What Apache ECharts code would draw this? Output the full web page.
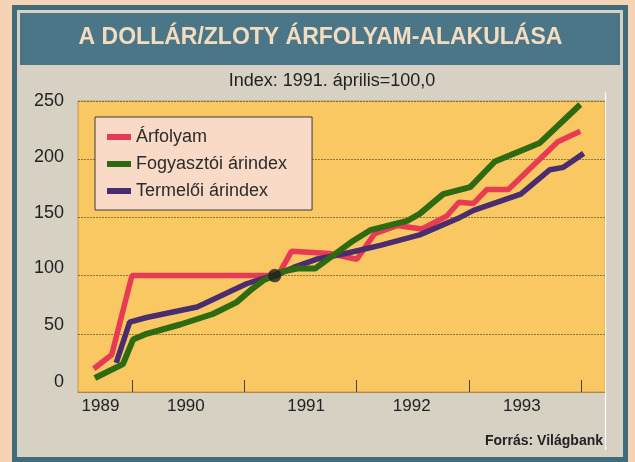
<!DOCTYPE html>
<html><head><meta charset="utf-8">
<script src="https://cdn.jsdelivr.net/npm/echarts@6/dist/echarts.min.js"></script>
<style>html,body{margin:0;padding:0;background:#f7d3b5;}#c{width:635px;height:462px;}</style>
</head><body><div id="c"></div>
<script>
// ---- data ----
const seriesNames = ['Árfolyam', 'Fogyasztói árindex', 'Termelői árindex'];
// [year (decimal), index]
const arfolyam = [
  [1989.66, 20], [1989.82, 32], [1990.00, 100], [1991.30, 100], [1991.42, 121],
  [1991.76, 119], [1992.00, 114], [1992.16, 136], [1992.36, 143], [1992.58, 140],
  [1992.80, 151], [1992.91, 163], [1993.04, 162], [1993.16, 174], [1993.35, 174],
  [1993.79, 215], [1993.99, 224]
];
const fogyasztoi = [
  [1989.67, 12], [1989.92, 24], [1990.01, 45], [1990.13, 50], [1990.43, 58],
  [1990.72, 67], [1990.93, 77], [1991.05, 87], [1991.17, 96], [1991.27, 100],
  [1991.32, 103], [1991.47, 106], [1991.63, 106], [1991.97, 130], [1992.12, 139],
  [1992.45, 147], [1992.56, 153], [1992.77, 170], [1993.01, 176], [1993.23, 198],
  [1993.63, 214], [1993.99, 247]
];
const termeloi = [
  [1989.86, 25], [1989.98, 60], [1990.13, 64], [1990.58, 73], [1991.02, 93],
  [1991.20, 98.5], [1991.27, 100], [1991.44, 107], [1991.64, 114], [1991.90, 119],
  [1992.21, 126], [1992.56, 135], [1992.92, 150], [1993.04, 156], [1993.46, 170],
  [1993.72, 191], [1993.84, 193], [1994.02, 205]
];
const baseDate = [[1991.27, 100]]; // 1991. április = 100
const yearLabels = ['1989', '1990', '1991', '1992', '1993'];
const yearLabelAt = [1989.72, 1990.48, 1991.55, 1992.49, 1993.47];
const yearTicks = [1990, 1991, 1992, 1993, 1994];
const yTickLabels = [0, 50, 100, 150, 200, 250];
const yTickLabelAt = [8.8, 57.6, 106.5, 153.8, 202.1, 250];

// ---- chart ----
const colors = ['#e63a55', '#2e6a12', '#4a2d6e'];
const nearestIdx = (arr, v) => {
  let bi = 0;
  arr.forEach((a, i) => { if (Math.abs(a - v) < Math.abs(arr[bi] - v)) bi = i; });
  return bi;
};
const chart = echarts.init(document.getElementById('c'), null, {renderer: 'canvas'});
const FONT = '"Liberation Sans", Arial, Helvetica, sans-serif';
chart.setOption({
  animation: false,
  backgroundColor: '#f7d3b5',
  textStyle: {fontFamily: FONT},
  graphic: [
    {type: 'rect', z: -10, shape: {x: 12, y: 5, width: 616, height: 457}, style: {fill: '#3e6c7b'}},
    {type: 'rect', z: -9, shape: {x: 17, y: 10, width: 606, height: 447}, style: {fill: '#d6d1c3'}},
    {type: 'rect', z: -8, shape: {x: 20, y: 13, width: 600, height: 52}, style: {fill: '#4a7687'}},
    {type: 'line', z: 50, shape: {x1: 605.5, y1: 92, x2: 605.5, y2: 450}, style: {stroke: '#ffffff', lineWidth: 1.2}}
  ],
  title: [
    {text: 'A DOLLÁR/ZLOTY ÁRFOLYAM-ALAKULÁSA', left: 320.5, top: 26, textAlign: 'center', padding: 0,
     textStyle: {fontFamily: FONT, fontSize: 23, fontWeight: 'bold', color: '#f3dcc0'}},
    {text: 'Index: 1991. április=100,0', left: 332, top: 72, textAlign: 'center', padding: 0,
     textStyle: {fontFamily: FONT, fontSize: 18, fontWeight: 'normal', color: '#222'}},
    {text: 'Forrás: Világbank', right: 32, top: 434, padding: 0,
     textStyle: {fontFamily: FONT, fontSize: 14, fontWeight: 'bold', color: '#222'}}
  ],
  legend: {
    data: seriesNames,
    orient: 'vertical', left: 95, top: 117,
    icon: 'rect', itemWidth: 24, itemHeight: 6, itemGap: 9,
    padding: [11, 25, 10, 12],
    backgroundColor: '#f8dac6', borderColor: '#3b3b3b', borderWidth: 1,
    textStyle: {fontFamily: FONT, fontSize: 18, color: '#2b2b2b'},
    selectedMode: false
  },
  grid: {left: 78, right: 30, top: 101, bottom: 70, show: true,
         backgroundColor: '#f9c862', borderColor: '#c39a4c', borderWidth: 1},
  xAxis: {
    type: 'value', min: 1989.52, max: 1994.21,
    axisLine: {show: true, lineStyle: {color: '#a88a45', width: 1}},
    axisTick: {show: true, inside: true, length: 12, customValues: yearTicks,
               lineStyle: {color: '#444', width: 1}},
    axisLabel: {customValues: yearLabelAt, margin: 6, fontFamily: FONT, fontSize: 17, color: '#222',
                formatter: v => yearLabels[nearestIdx(yearLabelAt, v)]},
    splitLine: {show: false}
  },
  yAxis: {
    type: 'value', min: 0, max: 250, interval: 50,
    axisLine: {show: false}, axisTick: {show: false},
    axisLabel: {customValues: yTickLabelAt, margin: 14, fontFamily: FONT, fontSize: 18, color: '#222',
                formatter: v => String(yTickLabels[nearestIdx(yTickLabelAt, v)])},
    splitLine: {show: true, lineStyle: {color: 'rgba(110,90,40,0.75)', width: 1, type: [2, 1]}}
  },
  series: [
    {name: seriesNames[0], type: 'line', data: arfolyam, symbol: 'none', z: 3,
     itemStyle: {color: colors[0]}, lineStyle: {color: colors[0], width: 5.5}},
    {name: seriesNames[2], type: 'line', data: termeloi, symbol: 'none', z: 4,
     itemStyle: {color: colors[2]}, lineStyle: {color: colors[2], width: 5.5}},
    {name: seriesNames[1], type: 'line', data: fogyasztoi, symbol: 'none', z: 5,
     itemStyle: {color: colors[1]}, lineStyle: {color: colors[1], width: 6}},
    {name: 'bázis', type: 'scatter', data: baseDate, symbolSize: 13, z: 10,
     itemStyle: {color: '#1e1e1e', borderColor: '#333', borderWidth: 0.5}}
  ]
});
</script>
</body></html>
